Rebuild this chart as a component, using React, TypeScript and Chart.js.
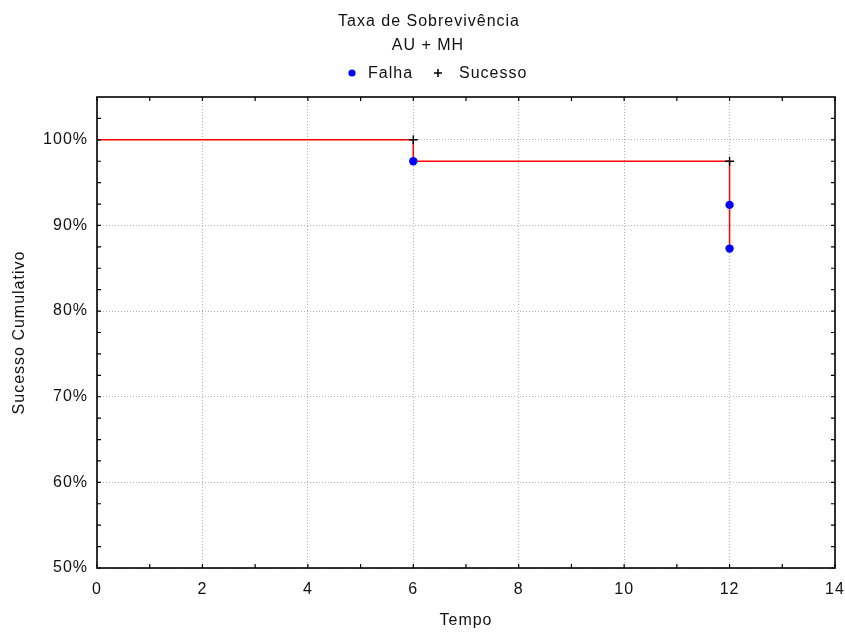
import { useEffect, useRef } from 'react';
import { Chart, registerables } from 'chart.js';

Chart.register(...registerables);

const titleLines = ['Taxa de Sobrevivência', 'AU + MH'];
const legendFail = 'Falha';
const legendSuccess = 'Sucesso';
const xTitle = 'Tempo';
const yTitle = 'Sucesso Cumulativo';

const curveTimes = [0, 6, 12];
const curveSurvival = [100, 97.5, 87.3];
const failTimes = [6, 12, 12];
const failSurvival = [97.5, 92.4, 87.3];
const successTimes = [6, 12];
const successSurvival = [100, 97.5];

const xTicks = [0, 2, 4, 6, 8, 10, 12, 14];
const xMinorTicks = [1, 3, 5, 7, 9, 11, 13];
const yTicks = [50, 60, 70, 80, 90, 100];
const yMinorTicks = [52.5, 55, 57.5, 62.5, 65, 67.5, 72.5, 75, 77.5, 82.5, 85, 87.5, 92.5, 95, 97.5, 102.5];

const FONT = "'Liberation Sans', Arial, sans-serif";
const TEXT = '#111111';
const FS = 16;
const SPACING = '1px';

const framePlugin = {
  id: 'frame',
  beforeDraw(chart: any) {
    (chart.ctx as any).letterSpacing = SPACING;
  },
  afterDraw(chart: any) {
    const ctx = chart.ctx as CanvasRenderingContext2D;
    const { left, right, top, bottom } = chart.chartArea;
    const xs = chart.scales.x;
    const ys = chart.scales.y;
    ctx.save();
    ctx.strokeStyle = '#000';
    ctx.lineWidth = 1.6;
    ctx.strokeRect(left, top, right - left, bottom - top);
    ctx.lineWidth = 1.2;
    const tl = 4;
    ctx.beginPath();
    [...xTicks, ...xMinorTicks].forEach((v) => {
      const px = xs.getPixelForValue(v);
      ctx.moveTo(px, bottom);
      ctx.lineTo(px, bottom - tl);
      ctx.moveTo(px, top);
      ctx.lineTo(px, top + tl);
    });
    [...yTicks, ...yMinorTicks].forEach((v) => {
      const py = ys.getPixelForValue(v);
      ctx.moveTo(left, py);
      ctx.lineTo(left + tl, py);
      ctx.moveTo(right, py);
      ctx.lineTo(right - tl, py);
    });
    ctx.stroke();

    (ctx as any).letterSpacing = SPACING;
    ctx.fillStyle = TEXT;
    ctx.font = `${FS}px ${FONT}`;
    ctx.textAlign = 'center';
    ctx.textBaseline = 'middle';
    ctx.fillText(titleLines[0], 429, 22);
    ctx.fillText(titleLines[1], 428, 46);

    ctx.textAlign = 'left';
    ctx.fillText(legendFail, 368, 74);
    ctx.fillText(legendSuccess, 459, 74);
    ctx.beginPath();
    ctx.fillStyle = '#0000ff';
    ctx.arc(352, 73, 3.6, 0, Math.PI * 2);
    ctx.fill();
    ctx.strokeStyle = '#000';
    ctx.lineWidth = 1.5;
    ctx.beginPath();
    ctx.moveTo(434, 73);
    ctx.lineTo(442, 73);
    ctx.moveTo(438, 69);
    ctx.lineTo(438, 77);
    ctx.stroke();
    ctx.restore();
  },
};

export default function App() {
  const ref = useRef<HTMLCanvasElement | null>(null);

  useEffect(() => {
    if (!ref.current) return;
    const chart = new Chart(ref.current, {
      type: 'scatter',
      data: {
        datasets: [
          {
            type: 'line',
            label: 'Curva',
            data: curveTimes.map((t, i) => ({ x: t, y: curveSurvival[i] })),
            borderColor: '#ff0000',
            borderWidth: 1.5,
            pointRadius: 0,
            stepped: 'before',
            fill: false,
            order: 3,
          } as any,
          {
            label: legendFail,
            data: failTimes.map((t, i) => ({ x: t, y: failSurvival[i] })),
            pointStyle: 'circle',
            pointRadius: 4.2,
            backgroundColor: '#0000ff',
            borderColor: '#0000ff',
            borderWidth: 0,
            order: 1,
          },
          {
            label: legendSuccess,
            data: successTimes.map((t, i) => ({ x: t, y: successSurvival[i] })),
            pointStyle: 'cross',
            pointRadius: 4.5,
            borderColor: '#000',
            borderWidth: 1.4,
            order: 2,
          },
        ],
      },
      options: {
        animation: false,
        responsive: false,
        maintainAspectRatio: false,
        layout: { padding: { top: 97, right: 10, left: 0, bottom: 0 } },
        plugins: {
          legend: { display: false },
          title: { display: false },
          tooltip: { enabled: false },
        },
        scales: {
          x: {
            type: 'linear',
            min: 0,
            max: 14,
            afterBuildTicks: (s: any) => {
              s.ticks = xTicks.map((v) => ({ value: v }));
            },
            afterFit: (s: any) => {
              s.height = 65;
              s.paddingLeft = 0;
              s.paddingRight = 0;
            },
            ticks: {
              color: TEXT,
              font: { family: FONT, size: FS },
              padding: 12,
              maxRotation: 0,
              autoSkip: false,
            },
            grid: {
              color: '#b0b0b0',
              lineWidth: 1,
              drawTicks: false,
            },
            border: { display: false, dash: [1, 2] },
            title: {
              display: true,
              text: xTitle,
              color: TEXT,
              font: { family: FONT, size: FS },
              padding: { top: 4, bottom: 3 },
            },
          },
          y: {
            type: 'linear',
            min: 50,
            max: 105,
            afterBuildTicks: (s: any) => {
              s.ticks = yTicks.map((v) => ({ value: v }));
            },
            afterFit: (s: any) => {
              s.width = 97;
              s.paddingTop = 0;
              s.paddingBottom = 0;
            },
            ticks: {
              color: TEXT,
              font: { family: FONT, size: FS },
              padding: 9,
              autoSkip: false,
              callback: (v: any) => `${v}%`,
            },
            grid: {
              color: '#b0b0b0',
              lineWidth: 1,
              drawTicks: false,
            },
            border: { display: false, dash: [1, 2] },
            title: {
              display: true,
              text: yTitle,
              color: TEXT,
              font: { family: FONT, size: FS },
              padding: { top: 10, bottom: 4 },
            },
          },
        },
      },
      plugins: [framePlugin],
    });
    return () => chart.destroy();
  }, []);

  return (
    <div style={{ position: 'absolute', left: 0, top: 0, width: 845, height: 633, background: '#fff' }}>
      <canvas ref={ref} width={845} height={633} style={{ width: 845, height: 633 }} />
    </div>
  );
}
